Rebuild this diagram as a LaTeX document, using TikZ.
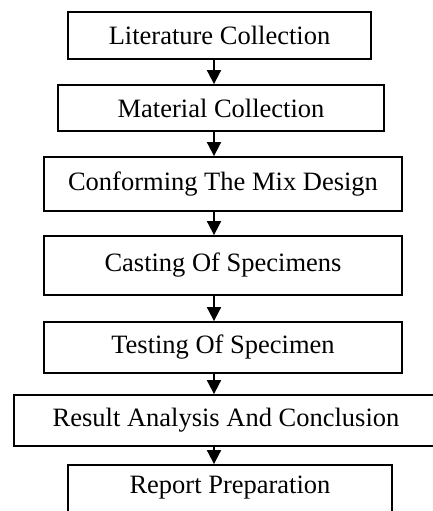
\documentclass[tikz,border=0pt]{standalone}
\usepackage{fontspec}
\setmainfont{Liberation Serif}
\usetikzlibrary{arrows.meta}
\begin{document}
\begin{tikzpicture}[x=1pt,y=-1pt,
  stepbox/.style={draw,line width=1.8pt,inner sep=0pt,font=\fontsize{26.5}{30}\selectfont,align=center},
  flow/.style={line width=1.8pt,-{Triangle[width=14pt,length=14pt]}}]
\useasboundingbox (0,0) rectangle (433,511);
\clip (0,0) rectangle (433,511);
\node[stepbox,minimum width=303pt,minimum height=47pt] (b1) at (219.5,35.5) {Literature Collection};
\node[stepbox,minimum width=326pt,minimum height=46pt] (b2) at (221,108) {Material Collection};
\node[stepbox,minimum width=358pt,minimum height=54pt] (b3) at (223,184) {Conforming The Mix Design};
\node[stepbox,minimum width=358pt,minimum height=59pt] (b4) at (223,265.5) {Casting Of Specimens};
\node[stepbox,minimum width=358pt,minimum height=51pt] (b5) at (223,347.5) {Testing Of Specimen};
\node[stepbox,minimum width=424pt,minimum height=51pt] (b6) at (226,420.5) {Result Analysis And Conclusion};
\node[stepbox,minimum width=324pt,minimum height=55pt,text height=18pt,text depth=16pt] (b7) at (230,492.5) {Report Preparation};
\coordinate (ax) at (214,0);
\draw[flow] (ax |- b1.south) -- (ax |- b2.north);
\draw[flow] (ax |- b2.south) -- (ax |- b3.north);
\draw[flow] (ax |- b3.south) -- (ax |- b4.north);
\draw[flow] (ax |- b4.south) -- (ax |- b5.north);
\draw[flow] (ax |- b5.south) -- (ax |- b6.north);
\draw[flow] (ax |- b6.south) -- (ax |- b7.north);
\end{tikzpicture}
\end{document}
